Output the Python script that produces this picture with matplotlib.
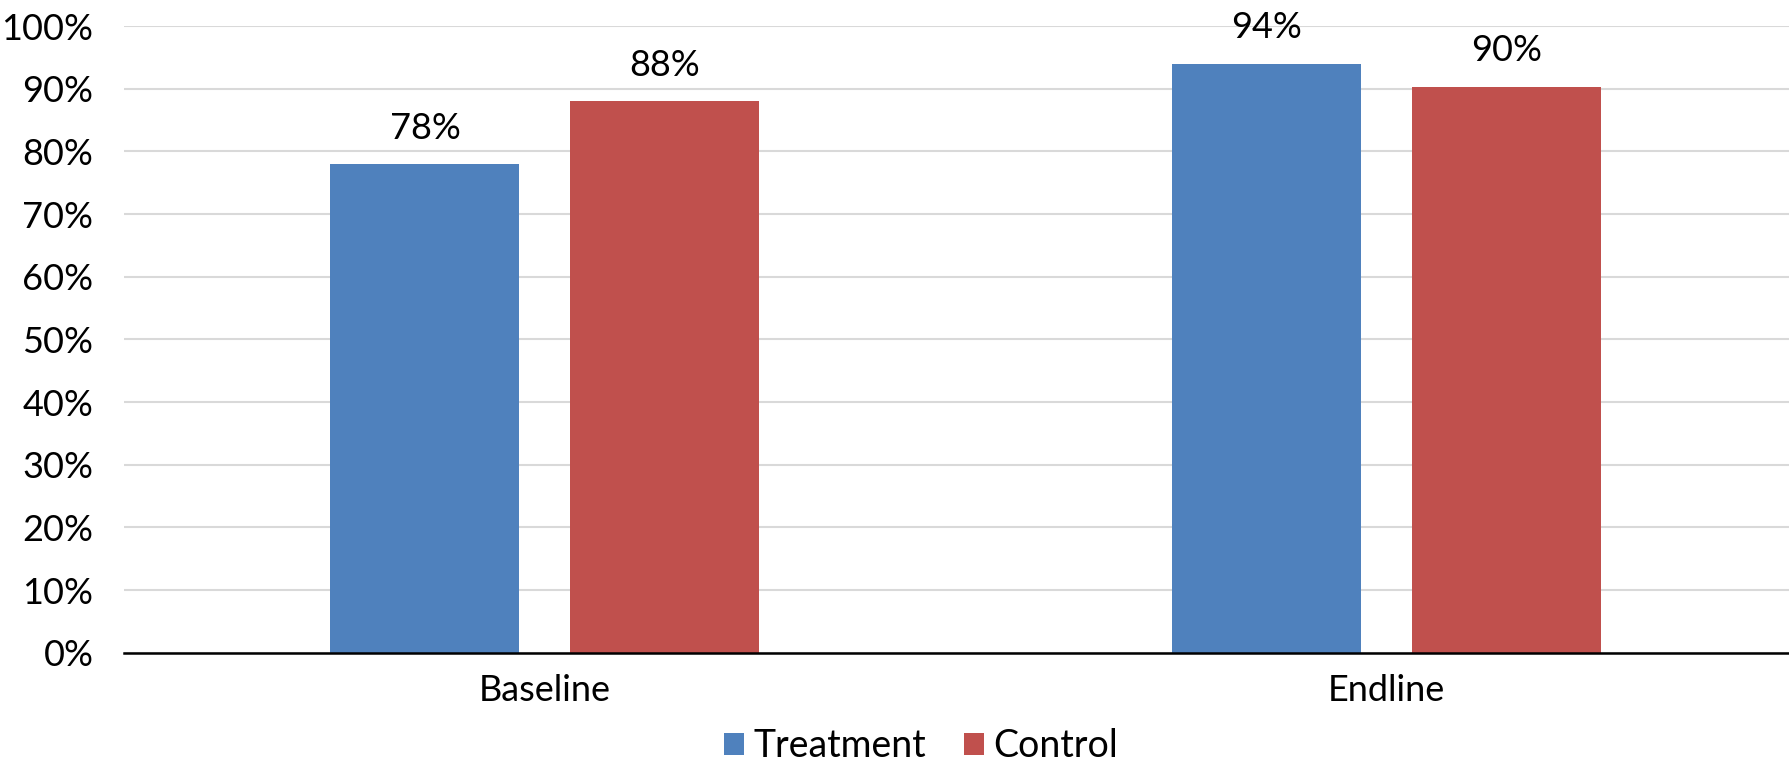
import matplotlib
matplotlib.use("Agg")
import matplotlib.pyplot as plt
import numpy as np
from matplotlib.patches import Patch

# Share of respondents by survey round and arm
categories = ["Baseline", "Endline"]
treatment = [0.78, 0.94]
control = [0.88, 0.903]
series_names = ["Treatment", "Control"]
y_ticks = [0.0, 0.1, 0.2, 0.3, 0.4, 0.5, 0.6, 0.7, 0.8, 0.9, 1.0]

BLUE = "#4F81BD"
RED = "#C0504D"

plt.rcParams["font.family"] = ["Lato", "DejaVu Sans"]

fig = plt.figure(figsize=(17.9, 7.66), dpi=100)
ax = fig.add_axes([0.0693, 0.1479, 0.9405, 0.818])

x = np.arange(len(categories))
width = 0.2245
offset = 0.1425

bars_t = ax.bar(x - offset, treatment, width, color=BLUE, zorder=3)
bars_c = ax.bar(x + offset, control, width, color=RED, zorder=3)

for bars, vals in ((bars_t, treatment), (bars_c, control)):
    for b, v in zip(bars, vals):
        ax.annotate(f"{v:.0%}", (b.get_x() + b.get_width() / 2, v),
                    xytext=(0, 14), textcoords="offset points",
                    ha="center", va="bottom", fontsize=26, color="black")

ax.set_xlim(-0.5, len(categories) - 0.5)
ax.set_ylim(0, 1.0)
ax.set_yticks(y_ticks)
ax.set_yticklabels([f"{t:.0%}" for t in y_ticks])
ax.set_xticks(x)
ax.set_xticklabels(categories)
ax.tick_params(axis="both", length=0, labelsize=26)
ax.tick_params(axis="y", pad=22)
ax.tick_params(axis="x", pad=15)

ax.yaxis.grid(True, color="#D9D9D9", linewidth=1.5, zorder=0)
ax.set_axisbelow(True)
for side in ("left", "right", "top"):
    ax.spines[side].set_visible(False)
ax.spines["bottom"].set_color("black")
ax.spines["bottom"].set_linewidth(1.8)
ax.spines["bottom"].set_zorder(4)

handles = [Patch(facecolor=BLUE), Patch(facecolor=RED)]
fig.legend(handles, series_names, loc="lower center",
           bbox_to_anchor=(921 / 1790, -0.042), ncol=2, frameon=False,
           fontsize=27, handlelength=0.55, handleheight=0.55,
           handletextpad=0.25, columnspacing=1.0)

fig.savefig("out.png", dpi=100, facecolor="white")
